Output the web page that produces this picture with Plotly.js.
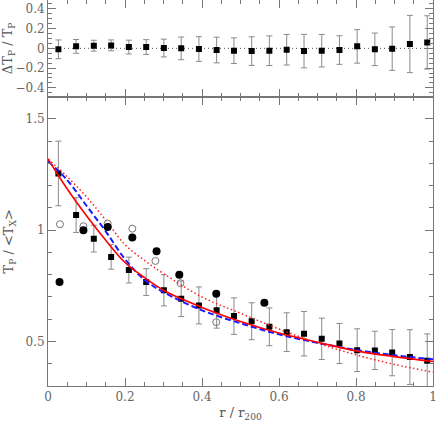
<!DOCTYPE html>
<html>
<head>
<meta charset="utf-8">
<script src="https://cdn.plot.ly/plotly-3.0.1.min.js"></script>
<style>
  html, body { margin: 0; padding: 0; background: #fff; }
  #plot { width: 436px; height: 424px; }
</style>
</head>
<body>
<div id="plot"></div>
<script>
/*
 * ~~~~~~~~~~~~~~~~~~~~~~~~~~~~~~~~~~~~~~~~~~~~~~~~
 * Data
 * ~~~~~~~~~~~~~~~~~~~~~~~~~~~~~~~~~~~~~~~~~~~~~~~~
 */

// radial bins (r / r200)
const rBins = [0.027, 0.073, 0.119, 0.164, 0.210, 0.255, 0.301, 0.346, 0.392, 0.438, 0.483,
  0.529, 0.575, 0.620, 0.665, 0.711, 0.757, 0.803, 0.849, 0.894, 0.940, 0.985];

// stacked profile T_p / <T_X>
const profile = [1.255, 1.068, 0.962, 0.880, 0.821, 0.767, 0.730, 0.692, 0.662, 0.640, 0.614,
  0.591, 0.566, 0.542, 0.535, 0.512, 0.491, 0.461, 0.460, 0.450, 0.430, 0.414];
const profileErr = [0.145, 0.078, 0.060, 0.055, 0.058, 0.060, 0.070, 0.080, 0.083, 0.080, 0.082,
  0.083, 0.085, 0.087, 0.100, 0.093, 0.090, 0.096, 0.086, 0.104, 0.123, 0.120];

// residuals dT_p / T_p
const resid = [-0.010, 0.020, 0.027, 0.030, 0.013, 0.013, 0.003, 0.000, -0.007, -0.017, -0.024,
  -0.028, -0.024, -0.014, -0.028, -0.024, -0.017, 0.020, -0.010, -0.003, 0.044, 0.060];
const residErr = [0.095, 0.070, 0.055, 0.055, 0.070, 0.075, 0.090, 0.115, 0.125, 0.130, 0.130,
  0.145, 0.150, 0.155, 0.170, 0.165, 0.145, 0.170, 0.165, 0.220, 0.290, 0.270];

// filled / open circles
const filledR = [0.030, 0.092, 0.155, 0.219, 0.282, 0.341, 0.437, 0.562];
const filledT = [0.767, 1.000, 1.015, 0.967, 0.905, 0.800, 0.715, 0.674];
const openR = [0.031, 0.092, 0.155, 0.219, 0.279, 0.344, 0.437];
const openT = [1.027, 1.018, 1.030, 1.007, 0.862, 0.762, 0.587];

// model curves
const curveR = [0, 0.05, 0.1, 0.15, 0.2, 0.25, 0.3, 0.4, 0.5, 0.6, 0.7, 0.8, 0.9, 1.0];
const redSolid = [1.320, 1.185, 1.065, 0.955, 0.855, 0.788, 0.730, 0.653, 0.590, 0.538, 0.497, 0.458, 0.432, 0.410];
const blueDash = [1.310, 1.225, 1.110, 0.995, 0.870, 0.778, 0.722, 0.640, 0.582, 0.532, 0.494, 0.462, 0.438, 0.420];
const redDot = [1.320, 1.240, 1.150, 1.045, 0.935, 0.865, 0.805, 0.700, 0.627, 0.556, 0.493, 0.440, 0.397, 0.362];

/*
 * ~~~~~~~~~~~~~~~~~~~~~~~~~~~~~~~~~~~~~~~~~~~~~~~~
 * Traces
 * ~~~~~~~~~~~~~~~~~~~~~~~~~~~~~~~~~~~~~~~~~~~~~~~~
 */

const errStyle = arr => ({
  type: 'data', array: arr, visible: true,
  color: '#8a8a8a', thickness: 1, width: 3,
});

const curve = (y, color, dash, width) => ({
  type: 'scatter', mode: 'lines',
  x: curveR, y: y,
  line: {color: color, dash: dash, width: width, shape: 'spline'},
  xaxis: 'x', yaxis: 'y',
  hoverinfo: 'skip',
});

const traces = [
  {
    type: 'scatter', mode: 'markers',
    x: rBins, y: resid,
    error_y: errStyle(residErr),
    marker: {symbol: 'square', size: 6, color: '#000'},
    xaxis: 'x2', yaxis: 'y2',
  },
  {
    type: 'scatter', mode: 'markers',
    x: rBins, y: profile,
    error_y: errStyle(profileErr),
    marker: {symbol: 'square', size: 6, color: '#000'},
    xaxis: 'x', yaxis: 'y',
  },
  curve(redDot, '#ff2020', '1.5px,2.5px', 1.5),
  curve(blueDash, '#1a1aff', '6px,3px', 2),
  curve(redSolid, '#ff0000', 'solid', 1.6),
  {
    type: 'scatter', mode: 'markers',
    x: openR, y: openT,
    marker: {symbol: 'circle-open', size: 7, color: '#777', line: {width: 1, color: '#777'}},
    xaxis: 'x', yaxis: 'y',
  },
  {
    type: 'scatter', mode: 'markers',
    x: filledR, y: filledT,
    marker: {symbol: 'circle', size: 8, color: '#000'},
    xaxis: 'x', yaxis: 'y',
  },
];

/*
 * ~~~~~~~~~~~~~~~~~~~~~~~~~~~~~~~~~~~~~~~~~~~~~~~~
 * Layout
 * ~~~~~~~~~~~~~~~~~~~~~~~~~~~~~~~~~~~~~~~~~~~~~~~~
 */

const tickFont = {family: 'DejaVu Serif, serif', size: 12, color: '#666'};
const titleFont = {family: 'DejaVu Serif, serif', size: 13, color: '#555'};
const frame = '#777';

const baseAxis = {
  showline: true, linecolor: frame, linewidth: 1,
  mirror: 'ticks', ticks: 'inside', tickcolor: frame, ticklen: 8, tickwidth: 1,
  showgrid: false, zeroline: false,
  tickfont: tickFont, ticklabeloverflow: 'allow',
};

const xAxis = (extra) => ({
  ...baseAxis,
  range: [0, 1], dtick: 0.2, tick0: 0,
  minor: {ticks: 'inside', dtick: 0.05, ticklen: 4, tickcolor: frame, showgrid: false},
  ...extra,
});

const layout = {
  width: 436, height: 424,
  margin: {l: 48, r: 3, t: 0, b: 38},
  paper_bgcolor: '#fff', plot_bgcolor: '#fff',
  showlegend: false,
  xaxis: xAxis({
    anchor: 'y',
    title: {text: 'r / r<sub>200</sub>', font: titleFont, standoff: 4},
  }),
  xaxis2: xAxis({anchor: 'y2', matches: 'x', showticklabels: false}),
  yaxis: {
    ...baseAxis,
    domain: [0, 0.7495], anchor: 'x',
    range: [0.3, 1.6], dtick: 0.5, tick0: 0,
    minor: {ticks: 'inside', dtick: 0.1, ticklen: 4, tickcolor: frame, showgrid: false},
    title: {text: 'T<sub>P</sub> / &lt;T<sub>X</sub>&gt;', font: titleFont, standoff: 8},
  },
  yaxis2: {
    ...baseAxis,
    domain: [0.7495, 1], anchor: 'x2',
    range: [-0.49, 0.49], dtick: 0.2, tick0: 0,
    minor: {ticks: 'inside', dtick: 0.05, ticklen: 4, tickcolor: frame, showgrid: false},
    title: {text: 'ΔT<sub>P</sub> / T<sub>P</sub>', font: titleFont, standoff: 4},
  },
  shapes: [{
    type: 'line', xref: 'x2', yref: 'y2',
    x0: 0, x1: 1, y0: 0, y1: 0,
    line: {color: '#555', width: 1, dash: '1px,3px'},
    layer: 'below',
  }],
};

Plotly.newPlot('plot', traces, layout, {staticPlot: true, displayModeBar: false});
</script>
</body>
</html>
